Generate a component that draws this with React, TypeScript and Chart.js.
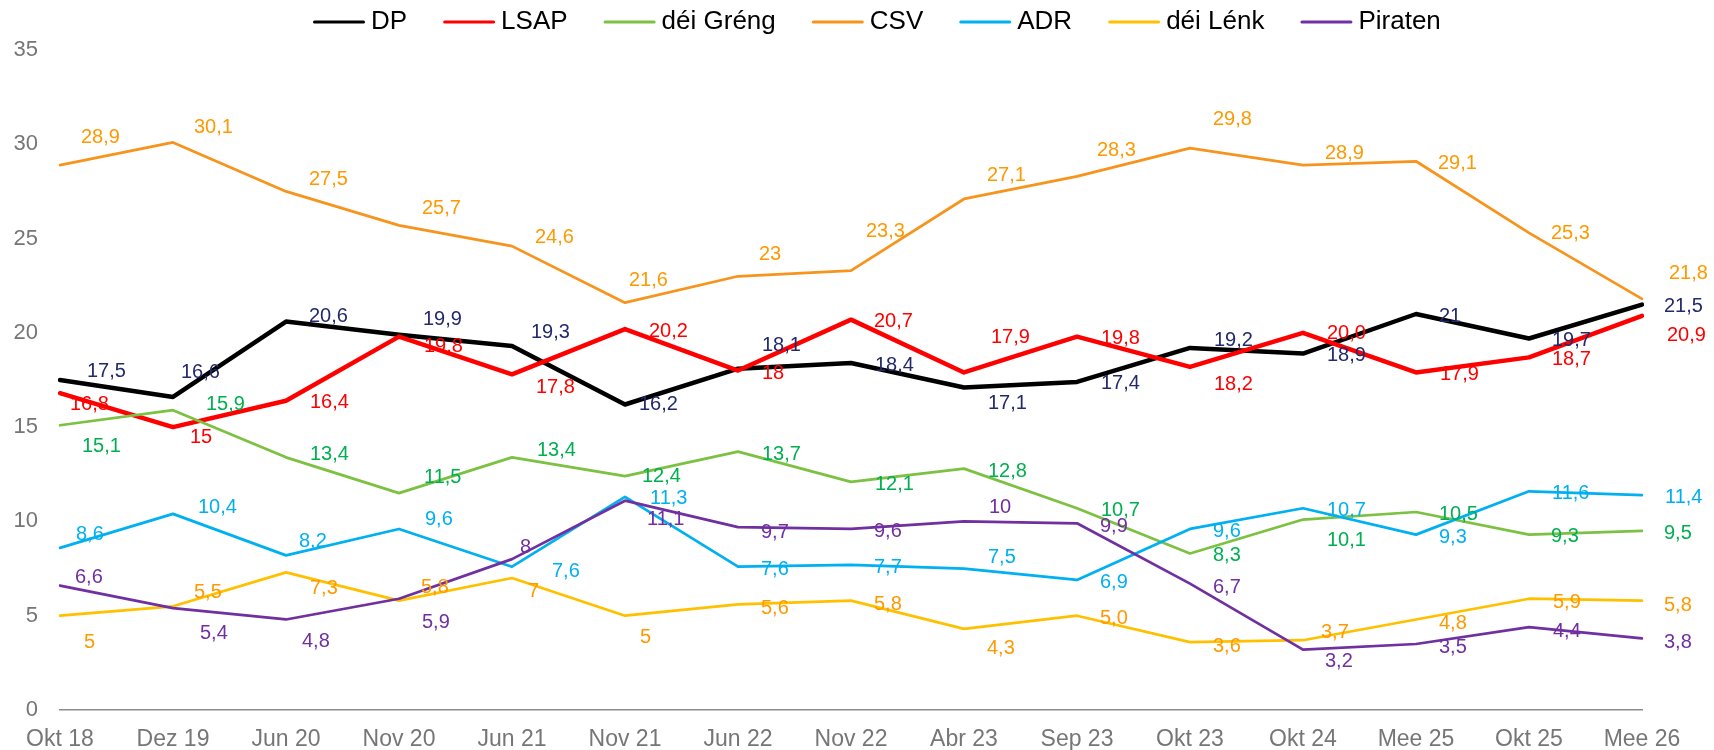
import React, { useEffect, useRef } from 'react';
import { Chart, registerables } from 'chart.js';

Chart.register(...registerables);

// ---------------- data ----------------
const categories = ['Okt 18', 'Dez 19', 'Jun 20', 'Nov 20', 'Jun 21', 'Nov 21', 'Jun 22', 'Nov 22', 'Abr 23', 'Sep 23', 'Okt 23', 'Okt 24', 'Mee 25', 'Okt 25', 'Mee 26'];

const dp = [17.5, 16.6, 20.6, 19.9, 19.3, 16.2, 18.1, 18.4, 17.1, 17.4, 19.2, 18.9, 21, 19.7, 21.5];
const lsap = [16.8, 15, 16.4, 19.8, 17.8, 20.2, 18, 20.7, 17.9, 19.8, 18.2, 20.0, 17.9, 18.7, 20.9];
const greng = [15.1, 15.9, 13.4, 11.5, 13.4, 12.4, 13.7, 12.1, 12.8, 10.7, 8.3, 10.1, 10.5, 9.3, 9.5];
const csv = [28.9, 30.1, 27.5, 25.7, 24.6, 21.6, 23, 23.3, 27.1, 28.3, 29.8, 28.9, 29.1, 25.3, 21.8];
const adr = [8.6, 10.4, 8.2, 9.6, 7.6, 11.3, 7.6, 7.7, 7.5, 6.9, 9.6, 10.7, 9.3, 11.6, 11.4];
const lenk = [5, 5.5, 7.3, 5.8, 7, 5, 5.6, 5.8, 4.3, 5.0, 3.6, 3.7, 4.8, 5.9, 5.8];
const piraten = [6.6, 5.4, 4.8, 5.9, 8, 11.1, 9.7, 9.6, 10, 9.9, 6.7, 3.2, 3.5, 4.4, 3.8];

// y axis
const yMin = 0;
const yMax = 35;
const yStep = 5;

// points whose label is printed with one decimal even when it is .0
const lsapOneDecimal = [11];
const lenkOneDecimal = [9];

// ---------------- label placement (pixel offsets from the point) ----------------
const dpLabelDx = [27, 8, 23, 24, 19, 14, 24, 24, 24, 24, 24, 24, 23, 23, 22];
const dpLabelDy = [-9, -24, -5, -15, -14, 0, -23, 2, 16, 2, -7, 2, 2, 2, 2];
const lsapLabelDx = [10, 17, 24, 25, 24, 24, 24, 23, 27, 24, 24, 24, 24, 23, 25];
const lsapLabelDy = [11, 10, 2, 10, 13, 2, 3, 2, -35, 2, 18, 1, 2, 2, 20];
const grengLabelDx = [22, 33, 24, 25, 25, 17, 24, 24, 24, 24, 23, 24, 23, 22, 22];
const grengLabelDy = [21, -6, -3, -16, -7, 0, 3, 3, 3, 2, 2, 21, 2, 2, 3];
const csvLabelDx = [21, 21, 23, 23, 23, 4, 21, 15, 23, 20, 23, 22, 22, 22, 27];
const csvLabelDy = [-28, -15, -12, -17, -9, -22, -22, -39, -23, -26, -29, -12, 2, 1, -25];
const adrLabelDx = [16, 25, 13, 26, 40, 25, 23, 23, 24, 23, 23, 24, 23, 23, 23];
const adrLabelDy = [-13, -6, -14, -9, 5, 2, 3, 3, -11, 3, 3, 2, 3, 2, 2];
const lenkLabelDx = [24, 21, 24, 22, 16, 15, 23, 23, 23, 23, 23, 18, 23, 24, 22];
const lenkLabelDy = [27, -14, 16, -13, 13, 22, 4, 4, 20, 3, 4, -8, 4, 4, 5];
const piratenLabelDx = [15, 27, 16, 23, 8, 22, 23, 23, 25, 23, 23, 22, 23, 24, 22];
const piratenLabelDy = [-8, 25, 22, 24, -12, 19, 5, 3, -14, 3, 4, 12, 3, 4, 4];

type Series = {
  name: string;
  values: number[];
  line: string;
  label: string;
  width: number;
  dx: number[];
  dy: number[];
  oneDecimal: number[];
};

const series: Series[] = [
  { name: 'DP', values: dp, line: '#000000', label: '#222a6b', width: 4.5, dx: dpLabelDx, dy: dpLabelDy, oneDecimal: [] },
  { name: 'LSAP', values: lsap, line: '#ff0000', label: '#ff0000', width: 4.5, dx: lsapLabelDx, dy: lsapLabelDy, oneDecimal: lsapOneDecimal },
  { name: 'déi Gréng', values: greng, line: '#7cc142', label: '#00b050', width: 2.75, dx: grengLabelDx, dy: grengLabelDy, oneDecimal: [] },
  { name: 'CSV', values: csv, line: '#f7941d', label: '#ff9900', width: 2.75, dx: csvLabelDx, dy: csvLabelDy, oneDecimal: [] },
  { name: 'ADR', values: adr, line: '#00b0f0', label: '#00b0f0', width: 2.75, dx: adrLabelDx, dy: adrLabelDy, oneDecimal: [] },
  { name: 'déi Lénk', values: lenk, line: '#ffc000', label: '#ff9900', width: 2.75, dx: lenkLabelDx, dy: lenkLabelDy, oneDecimal: lenkOneDecimal },
  { name: 'Piraten', values: piraten, line: '#7030a0', label: '#7030a0', width: 2.75, dx: piratenLabelDx, dy: piratenLabelDy, oneDecimal: [] },
];

const FONT = '"Liberation Sans", Arial, sans-serif';
const LABEL_SIZE = 20;
const X_TICK_SIZE = 23;
const Y_TICK_SIZE = 22;
const LEGEND_SIZE = 26;
const LEGEND_X = 313;
const LEGEND_Y = 22;
const LEGEND_LINE = 52;
const LEGEND_TEXT_GAP = 6;
const LEGEND_ITEM_GAP = 36;

function formatLabel(s: Series, i: number): string {
  const v = s.values[i];
  const txt = s.oneDecimal.includes(i) ? v.toFixed(1) : String(v);
  return txt.replace('.', ',');
}

const pointLabelsPlugin = {
  id: 'pointLabels',
  afterDatasetsDraw(chart: any) {
    const ctx = chart.ctx;
    ctx.save();
    ctx.font = `${LABEL_SIZE}px ${FONT}`;
    ctx.textAlign = 'left';
    ctx.textBaseline = 'middle';
    series.forEach((s, di) => {
      const meta = chart.getDatasetMeta(di);
      ctx.fillStyle = s.label;
      meta.data.forEach((pt: any, i: number) => {
        ctx.fillText(formatLabel(s, i), pt.x + s.dx[i], pt.y + s.dy[i]);
      });
    });
    ctx.restore();
  },
};

const legendPlugin = {
  id: 'lineLegend',
  afterDraw(chart: any) {
    const ctx = chart.ctx;
    ctx.save();
    ctx.font = `${LEGEND_SIZE}px ${FONT}`;
    ctx.textAlign = 'left';
    ctx.textBaseline = 'middle';
    let x = LEGEND_X;
    series.forEach((s) => {
      ctx.strokeStyle = s.line;
      ctx.lineWidth = 3;
      ctx.lineCap = 'round';
      ctx.beginPath();
      ctx.moveTo(x + 1.5, LEGEND_Y);
      ctx.lineTo(x + LEGEND_LINE - 1.5, LEGEND_Y);
      ctx.stroke();
      x += LEGEND_LINE + LEGEND_TEXT_GAP;
      ctx.fillStyle = '#000000';
      ctx.fillText(s.name, x, LEGEND_Y);
      x += ctx.measureText(s.name).width + LEGEND_ITEM_GAP;
    });
    ctx.restore();
  },
};

export default function App() {
  const canvasRef = useRef<HTMLCanvasElement | null>(null);

  useEffect(() => {
    if (!canvasRef.current) return;
    Chart.defaults.font.family = FONT;
    const n = series.length;
    const chart = new Chart(canvasRef.current, {
      type: 'line',
      data: {
        labels: categories,
        datasets: series.map((s, i) => ({
          label: s.name,
          data: s.values,
          borderColor: s.line,
          backgroundColor: s.line,
          borderWidth: s.width,
          borderJoinStyle: 'round' as const,
          borderCapStyle: 'round' as const,
          pointRadius: 0,
          pointHoverRadius: 0,
          tension: 0,
          fill: false,
          order: n - 1 - i,
        })),
      },
      options: {
        animation: false,
        responsive: true,
        maintainAspectRatio: false,
        layout: { padding: { top: 50, right: 72, bottom: 0, left: 0 } },
        plugins: {
          legend: { display: false },
          tooltip: { enabled: false },
        },
        scales: {
          x: {
            type: 'category',
            offset: false,
            grid: { display: false, drawTicks: false },
            border: { display: true, color: '#8c8c8c', width: 1.5 },
            ticks: {
              color: '#767676',
              font: { size: X_TICK_SIZE, family: FONT },
              padding: 16,
              maxRotation: 0,
              autoSkip: false,
            },
            afterFit: (scale: any) => {
              scale.height = 40;
            },
          },
          y: {
            min: yMin,
            max: yMax,
            grid: { display: false, drawTicks: false },
            border: { display: false },
            ticks: {
              stepSize: yStep,
              color: '#767676',
              font: { size: Y_TICK_SIZE, family: FONT },
              padding: 22,
            },
            afterFit: (scale: any) => {
              scale.width = 60;
            },
          },
        },
      },
      plugins: [pointLabelsPlugin, legendPlugin],
    });
    return () => chart.destroy();
  }, []);

  return (
    <div style={{ position: 'fixed', left: 0, top: 0, width: 1714, height: 750, background: '#ffffff' }}>
      <canvas ref={canvasRef} />
    </div>
  );
}
